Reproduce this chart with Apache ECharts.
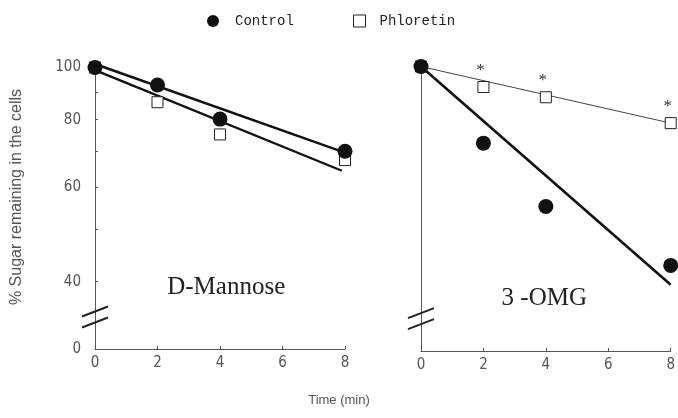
<!DOCTYPE html>
<html>
<head>
<meta charset="utf-8">
<script src="https://cdn.jsdelivr.net/npm/echarts@6/dist/echarts.min.js"></script>
<style>
html,body{margin:0;padding:0;background:#fff;}
#chart{width:678px;height:418px;}
</style>
</head>
<body>
<div id="chart"></div>
<script>
// ---- data ----
const timePoints = [0, 2, 4, 8];
const mannoseControl = [100, 92.8, 80.2, 69.9];
const mannosePhloretin = [100, 86.2, 75.1, 67.3];
const omgControl = [100, 72.3, 55.3, 43.1];
const omgPhloretin = [100, 91.7, 87.8, 78.7];
const mannoseControlFit = [[0, 101.5], [7.95, 69.6]];
const mannosePhloretinFit = [[0, 98.9], [7.9, 64.3]];
const omgControlFit = [[0, 100], [8, 39.7]];
const omgPhloretinFit = [[0, 100], [8, 78.7]];
const omgSignificant = ['', '*', '*', '*'];
const xTickValues = [0, 2, 4, 6, 8];
const yLabelValues = [30, 40, 60, 80, 100];   // 30 = axis base shown as "0" (broken axis)
const yTickValues = [40, 50, 60, 70, 80, 90, 100];
const yBaseLabel = '0';
const panelNames = ['D-Mannose', '3 -OMG'];
const seriesNames = ['Control', 'Phloretin'];

function pairs(xs, ys) { return xs.map((x, i) => [x, ys[i]]); }

const tickFont = "'Liberation Sans Narrow','DejaVu Sans Condensed','Liberation Sans',sans-serif";
const axisColor = '#555';
const yMin = 30, yMax = 101.5;

function xAxis(gridIndex) {
  return {
    type: 'value', gridIndex, min: 0, max: 8, interval: 2,
    axisLine: { lineStyle: { color: axisColor, width: 1 } },
    axisTick: { show: true, inside: true, length: 3, lineStyle: { color: axisColor } },
    axisLabel: { color: '#555', fontFamily: tickFont, fontSize: 15, margin: 7, customValues: xTickValues },
    splitLine: { show: false }
  };
}
function yAxis(gridIndex, showLabels) {
  return {
    type: 'log', logBase: 10, gridIndex, min: yMin, max: yMax,
    axisLine: { show: true, lineStyle: { color: axisColor, width: 1 } },
    axisTick: { show: showLabels, inside: true, length: 3, customValues: yTickValues, lineStyle: { color: axisColor } },
    axisLabel: {
      show: showLabels, color: '#555', fontFamily: tickFont, fontSize: 15, margin: 14,
      customValues: yLabelValues,
      formatter: v => (Math.abs(v - yMin) < 1e-6 ? yBaseLabel : String(Math.round(v)))
    },
    splitLine: { show: false }, minorTick: { show: false }
  };
}
const circleStyle = { color: '#111', opacity: 1 };
const squareStyle = { color: '#fff', borderColor: '#222', borderWidth: 1, opacity: 1 };

function fitLine(name, data, g, width, color) {
  return {
    type: 'line', name, xAxisIndex: g, yAxisIndex: g, data, symbol: 'none', silent: true,
    lineStyle: { color, width }, z: 2, animation: false
  };
}
function legendBox(left, idx, icon, style, textPad) {
  return {
    left, top: 14, padding: 0, itemWidth: 12, itemHeight: 12,
    textStyle: { fontFamily: "'Liberation Mono',monospace", fontSize: 14, color: '#222', padding: [0, 0, 0, textPad] },
    data: [{ name: seriesNames[idx], icon, itemStyle: style }]
  };
}

const option = {
  animation: false,
  backgroundColor: '#fff',
  grid: [
    { left: 95, top: 64, width: 250, height: 285 },
    { left: 421, top: 63, width: 252, height: 288 }
  ],
  legend: [
    legendBox(207, 0, 'circle', circleStyle, 11),
    legendBox(353, 1, 'rect', squareStyle, 9)
  ],
  xAxis: [xAxis(0), xAxis(1)],
  yAxis: [yAxis(0, true), yAxis(1, false)],
  series: [
    fitLine('Mannose control fit', mannoseControlFit, 0, 2.4, '#111'),
    fitLine('Mannose phloretin fit', mannosePhloretinFit, 0, 2.4, '#111'),
    fitLine('OMG control fit', omgControlFit, 1, 2.6, '#111'),
    fitLine('OMG phloretin fit', omgPhloretinFit, 1, 1, '#444'),
    { type: 'scatter', name: seriesNames[1], xAxisIndex: 0, yAxisIndex: 0, symbol: 'rect', symbolSize: 11,
      data: pairs(timePoints, mannosePhloretin), itemStyle: squareStyle, z: 3 },
    { type: 'scatter', name: seriesNames[1], xAxisIndex: 1, yAxisIndex: 1, symbol: 'rect', symbolSize: 11,
      data: pairs(timePoints, omgPhloretin), itemStyle: squareStyle, z: 3,
      label: { show: true, position: 'top', distance: 2, offset: [-3, 0],
        formatter: p => omgSignificant[p.dataIndex],
        fontFamily: "'Liberation Serif',serif", fontSize: 17, color: '#333' } },
    { type: 'scatter', name: seriesNames[0], xAxisIndex: 0, yAxisIndex: 0, symbol: 'circle', symbolSize: 15,
      data: pairs(timePoints, mannoseControl), itemStyle: circleStyle, z: 4 },
    { type: 'scatter', name: seriesNames[0], xAxisIndex: 1, yAxisIndex: 1, symbol: 'circle', symbolSize: 15,
      data: pairs(timePoints, omgControl), itemStyle: circleStyle, z: 4 }
  ]
};

const chart = echarts.init(document.getElementById('chart'), null, { renderer: 'canvas' });
chart.setOption(option);

// decorations: break marks on both y axes, panel names, axis titles
const breakValue = 34.4;
const graphics = [];
[0, 1].forEach(g => {
  const p = chart.convertToPixel({ xAxisIndex: g, yAxisIndex: g }, [0, breakValue]);
  [-5.5, 5.5].forEach(dy => {
    graphics.push({
      type: 'line', silent: true, z: 10,
      shape: { x1: p[0] - 13, y1: p[1] + dy + 5, x2: p[0] + 13, y2: p[1] + dy - 5 },
      style: { stroke: '#222', lineWidth: 2 }
    });
  });
});
const n0 = chart.convertToPixel({ xAxisIndex: 0, yAxisIndex: 0 }, [4.2, 39.1]);
const n1 = chart.convertToPixel({ xAxisIndex: 1, yAxisIndex: 1 }, [3.95, 37.4]);
[[n0, panelNames[0]], [n1, panelNames[1]]].forEach(([p, t]) => {
  graphics.push({
    type: 'text', silent: true, x: p[0], y: p[1],
    style: { text: t, fontFamily: "'Liberation Serif','Times New Roman',serif", fontSize: 25,
      fill: '#222', align: 'center', verticalAlign: 'middle' }
  });
});
graphics.push({
  type: 'text', silent: true, x: 17, y: 197, rotation: Math.PI / 2,
  style: { text: '% Sugar remaining in the cells', fontFamily: "'Liberation Sans',Arial,sans-serif",
    fontSize: 16, fill: '#555', align: 'center', verticalAlign: 'middle' }
});
graphics.push({
  type: 'text', silent: true, x: 339, y: 400,
  style: { text: 'Time (min)', fontFamily: "'Liberation Sans',Arial,sans-serif",
    fontSize: 13, fill: '#555', align: 'center', verticalAlign: 'middle' }
});
chart.setOption({ graphic: graphics });
</script>
</body>
</html>
